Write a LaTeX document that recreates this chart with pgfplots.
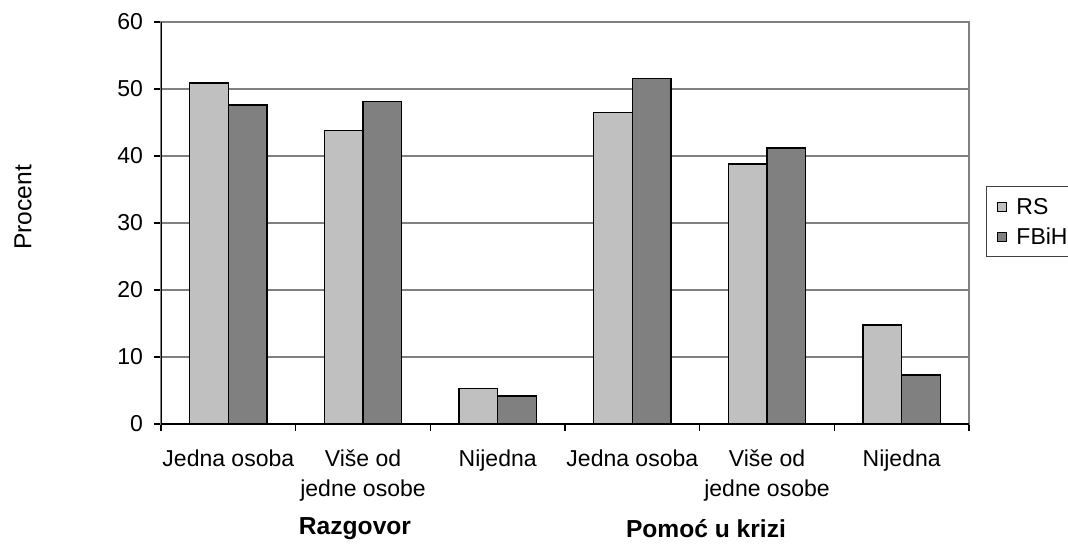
\documentclass[border=0pt]{standalone}
\usepackage{pgfplots}
\pgfplotsset{compat=1.18}
\usepackage{fontspec}
\setmainfont{Liberation Sans}
\definecolor{rsgray}{HTML}{C0C0C0}
\definecolor{fbgray}{HTML}{808080}
\begin{document}
\begin{tikzpicture}[font=\fontsize{11.5}{15}\selectfont]
\path[use as bounding box] (0,0) rectangle (534pt,271.5pt);
\begin{axis}[
    at={(80.5pt,59.5pt)}, anchor=south west,
    scale only axis, width=404pt, height=201pt,
    ybar=0pt, bar width=19.35pt,
    xmin=-0.5, xmax=5.5, ymin=0, ymax=60,
    xtick={-0.5,0.5,...,5.5},
    x tick label as interval,
    xticklabels={Jedna osoba, {Više od\\jedne osobe}, Nijedna, Jedna osoba, {Više od\\jedne osobe}, Nijedna},
    xticklabel style={align=center, anchor=north, yshift=-6pt},
    ytick={0,10,...,60},
    yticklabel style={anchor=east, xshift=-2pt},
    /pgf/number format/assume math mode=true,
    tick pos=left, tick align=outside,
    major tick length=3.5pt,
    tick style={black, line width=0.7pt},
    ymajorgrids,
    grid style={fbgray, line width=0.7pt},
    axis line style={fbgray, line width=0.7pt},
    ylabel={Procent},
    ylabel style={at={(axis description cs:-0.1708,0.5386)}, anchor=center, font=\fontsize{12.3}{15}\selectfont},
    legend style={at={(1.021,0.592)}, anchor=north west, draw=black!75, line width=0.5pt,
        inner sep=4.5pt, row sep=4pt,
        nodes={inner sep=0pt, text height=9.5pt, text depth=1.5pt}},
    legend cell align=left,
    legend image code/.code={
        \draw[#1, line width=0.5pt] (1pt,-2.25pt) rectangle (5.5pt,2.25pt);
        \path[draw=none, fill=none] (0pt,0pt) -- (10.5pt,0pt);},
]
\addplot[fill=rsgray, draw=black, line width=0.7pt] coordinates {
    (0,50.9) (1,43.8) (2,5.3) (3,46.5) (4,38.8) (5,14.8)
};
\addplot[fill=fbgray, draw=black, line width=0.7pt] coordinates {
    (0,47.6) (1,48.1) (2,4.2) (3,51.6) (4,41.2) (5,7.3)
};
\legend{RS, FBiH}
\draw[black, line width=0.7pt] (rel axis cs:0,0) -- (rel axis cs:0,1);
\draw[black, line width=0.7pt] (rel axis cs:0,0) -- (rel axis cs:1,0);
\end{axis}
\node[font=\fontsize{12.3}{15}\selectfont\bfseries] at (177.5pt,7pt) {Razgovor};
\node[font=\fontsize{12.3}{15}\selectfont\bfseries] at (353pt,7pt) {Pomoć u krizi};
\end{tikzpicture}
\end{document}
